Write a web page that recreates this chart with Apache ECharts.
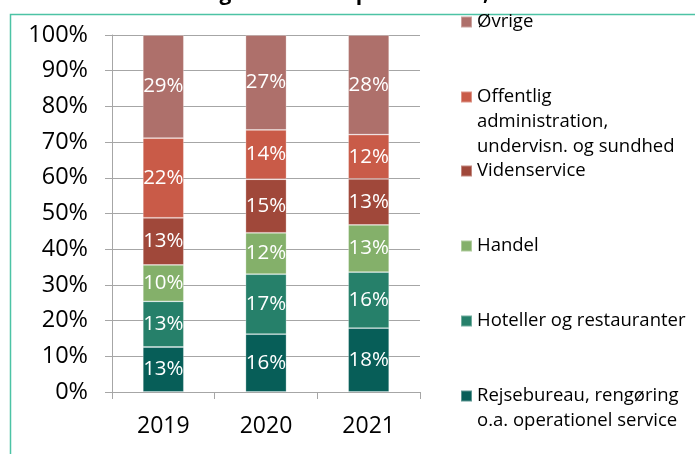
<!DOCTYPE html>
<html>
<head>
<meta charset="utf-8">
<script src="https://cdn.jsdelivr.net/npm/echarts@6/dist/echarts.min.js"></script>
<style>
  html, body { margin: 0; padding: 0; background: #fff; }
  #chart { width: 695px; height: 454px; }
</style>
</head>
<body>
<div id="chart"></div>
<script>
const years = ["2019", "2020", "2021"];
const rejsebureau = [12.6, 16.2, 17.9];
const hoteller = [12.8, 16.8, 15.7];
const handel = [10.2, 11.6, 13.2];
const videnservice = [13.2, 15.0, 12.9];
const offentlig = [22.3, 13.8, 12.4];
const oevrige = [28.9, 26.6, 27.9];

const font = "'Open Sans', sans-serif";

// bottom to top
const seriesDefs = [
  { name: "Rejsebureau, rengøring o.a. operationel service", data: rejsebureau, color: "#075E58",
    lines: ["", "Rejsebureau, rengøring", "o.a. operationel service"], center: 396 },
  { name: "Hoteller og restauranter", data: hoteller, color: "#26806A",
    lines: ["Hoteller og restauranter"], center: 321 },
  { name: "Handel", data: handel, color: "#84B06A",
    lines: ["Handel"], center: 246 },
  { name: "Videnservice", data: videnservice, color: "#A0483A",
    lines: ["Videnservice"], center: 171 },
  { name: "Offentlig administration, undervisn. og sundhed", data: offentlig, color: "#C95B48",
    lines: ["", "", "Offentlig", "administration,", "undervisn. og sundhed"], center: 97 },
  { name: "Øvrige", data: oevrige, color: "#AE706B",
    lines: ["Øvrige"], center: 22 },
];

const lineH = 25;

const chart = echarts.init(document.getElementById("chart"), null, { renderer: "canvas" });

chart.setOption({
  animation: false,
  textStyle: { fontFamily: font },
  grid: { left: 112, right: 275, top: 35, bottom: 62 },
  graphic: [
    {
      type: "rect",
      shape: { x: 10.5, y: 14.5, width: 720, height: 500 },
      style: { fill: null, stroke: "#4CC3A5", lineWidth: 1.5 },
      silent: true,
    },
    {
      type: "text",
      x: 362,
      y: 5,
      style: {
        text: "Beskæftigelse fordelt på brancher, 2019-2021",
        font: "bold 21px " + font,
        fill: "#000",
        align: "center",
        verticalAlign: "bottom",
      },
      silent: true,
    },
  ],
  legend: seriesDefs.map((s) => ({
    orient: "vertical",
    left: 460,
    top: s.center - (s.lines.length * lineH) / 2,
    padding: 0,
    itemWidth: 11,
    itemHeight: 11,
    icon: "rect",
    selectedMode: false,
    data: [s.name],
    formatter: () => s.lines.join("\n"),
    textStyle: { fontSize: 18.5, lineHeight: lineH, color: "#000", fontFamily: font },
  })),
  xAxis: {
    type: "category",
    data: years,
    axisLine: { lineStyle: { color: "#A6A6A6", width: 1 } },
    axisTick: { show: true, length: 7, lineStyle: { color: "#A6A6A6" } },
    axisLabel: { fontSize: 23, color: "#000", margin: 23, fontFamily: font },
  },
  yAxis: {
    type: "value",
    min: 0,
    max: 100,
    interval: 10,
    axisLine: { show: true, lineStyle: { color: "#A6A6A6", width: 1 } },
    axisTick: { show: true, length: 7, lineStyle: { color: "#A6A6A6" } },
    splitLine: { lineStyle: { color: "#A6A6A6", width: 1 } },
    axisLabel: { fontSize: 23.5, color: "#000", margin: 24, formatter: "{value}%", fontFamily: font },
  },
  series: seriesDefs.map((s) => ({
    name: s.name,
    type: "bar",
    stack: "total",
    barWidth: 41,
    data: s.data,
    itemStyle: { color: s.color, borderColor: "rgba(255,255,255,0.35)", borderWidth: 0.8 },
    label: {
      show: true,
      position: "inside",
      color: "#fff",
      fontSize: 20.5,
      fontFamily: font,
      formatter: (p) => Math.round(p.value) + "%",
    },
  })),
});
</script>
</body>
</html>
